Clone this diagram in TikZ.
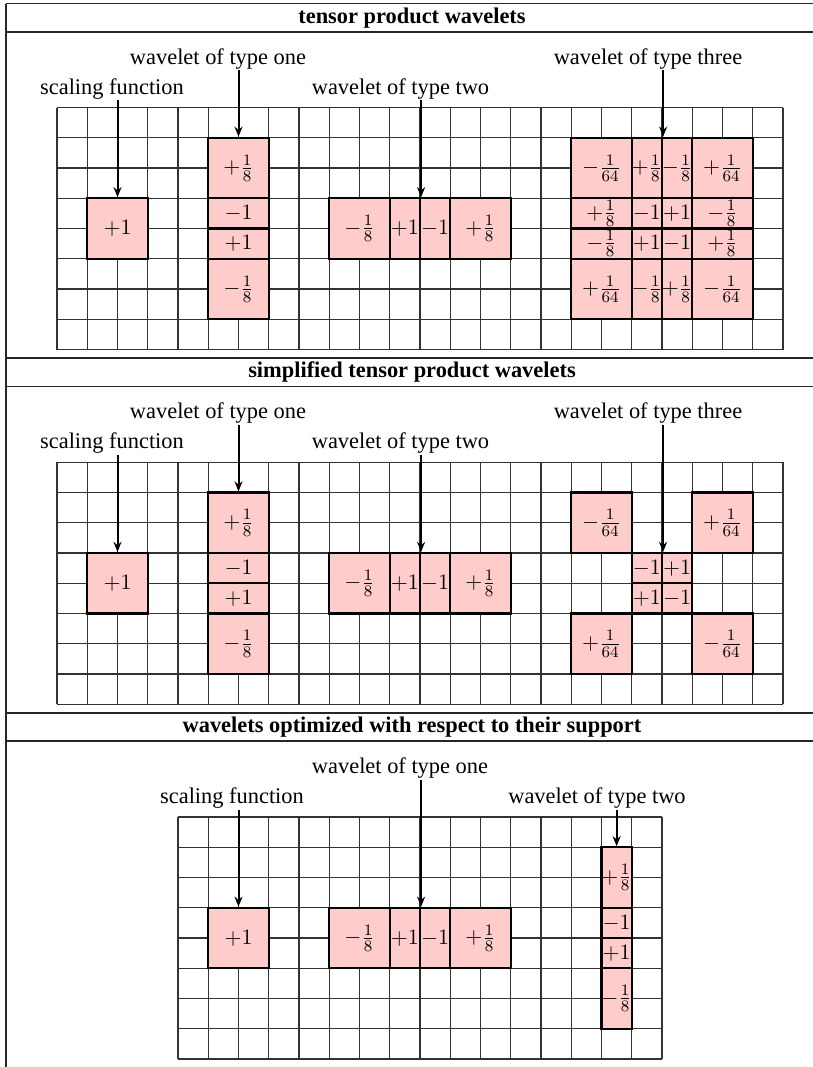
\documentclass[tikz,border=0pt]{standalone}
\usepackage[no-math]{fontspec}
\setmainfont{Liberation Serif}
\usetikzlibrary{arrows.meta}
\newcommand\myfs{\fontsize{11.2}{13.4}\selectfont}
\newcommand\blk[6]{\node[wbox,minimum width={(#4-#2)*15.125pt},minimum height={(#5-#3)*15.125pt}] (#1) at ({(#2+#4)/2},{(#3+#5)/2}) {#6};}
\newcommand\gridlines[2]{%
  \foreach \i in {0,...,#1} {\draw[gridline] (\i,0) -- (\i,#2);}
  \foreach \j in {0,...,#2} {\draw[gridline] (0,\j) -- (#1,\j);}}
\begin{document}
\begin{tikzpicture}[x=0.5pt,y=-0.5pt,
  wbox/.style={draw=black,line width=1.1pt,fill=red!20,inner sep=0pt,font=\myfs},
  gridline/.style={draw=black!80,line width=0.55pt},
  tabline/.style={draw=black!85,line width=0.8pt},
  lab/.style={font=\myfs,anchor=base,inner sep=0.6pt},
  head/.style={font=\myfs\bfseries,anchor=base,inner sep=0pt},
  arr/.style={draw=black,line width=1pt,-{Stealth[length=5pt,width=4pt]}}]
\useasboundingbox (0,0) rectangle (813,1067);
% table lines
\draw[tabline] (6,3.5) -- (6,1067);
\draw[tabline] (6,3.5) -- (813,3.5);
\draw[tabline] (6,31.7) -- (813,31.7);
\draw[tabline] (6,358.25) -- (813,358.25);
\draw[tabline] (6,386.45) -- (813,386.45);
\draw[tabline] (6,713) -- (813,713);
\draw[tabline] (6,741.2) -- (813,741.2);
% headers
\node[head] (h1) at (412,23) {tensor product wavelets};
\node[head] (h2) at (412,377.75) {simplified tensor product wavelets};
\node[head] (h3) at (412,732.5) {wavelets optimized with respect to their support};

% ---------- panel 1 ----------
\node[lab] (p1sf) at (112,94) {scaling function};
\node[lab] (p1w1) at (218,64) {wavelet of type one};
\node[lab] (p1w2) at (400.5,94) {wavelet of type two};
\node[lab] (p1w3) at (648,64) {wavelet of type three};
\begin{scope}[shift={(57,107.5)},x=15.125pt,y=-15.125pt]
\gridlines{24}{8}
\blk{as}{1}{3}{3}{5}{$+1$}
\blk{a1a}{5}{1}{7}{3}{$+\frac{1}{8}$}
\blk{a1b}{5}{3}{7}{4}{$-1$}
\blk{a1c}{5}{4}{7}{5}{$+1$}
\blk{a1d}{5}{5}{7}{7}{$-\frac{1}{8}$}
\blk{a2a}{9}{3}{11}{5}{$-\frac{1}{8}$}
\blk{a2b}{11}{3}{12}{5}{$+1$}
\blk{a2c}{12}{3}{13}{5}{$-1$}
\blk{a2d}{13}{3}{15}{5}{$+\frac{1}{8}$}
\blk{a3aa}{17}{1}{19}{3}{$-\frac{1}{64}$}
\blk{a3ab}{19}{1}{20}{3}{$+\frac{1}{8}$}
\blk{a3ac}{20}{1}{21}{3}{$-\frac{1}{8}$}
\blk{a3ad}{21}{1}{23}{3}{$+\frac{1}{64}$}
\blk{a3ba}{17}{3}{19}{4}{$+\frac{1}{8}$}
\blk{a3bb}{19}{3}{20}{4}{$-1$}
\blk{a3bc}{20}{3}{21}{4}{$+1$}
\blk{a3bd}{21}{3}{23}{4}{$-\frac{1}{8}$}
\blk{a3ca}{17}{4}{19}{5}{$-\frac{1}{8}$}
\blk{a3cb}{19}{4}{20}{5}{$+1$}
\blk{a3cc}{20}{4}{21}{5}{$-1$}
\blk{a3cd}{21}{4}{23}{5}{$+\frac{1}{8}$}
\blk{a3da}{17}{5}{19}{7}{$+\frac{1}{64}$}
\blk{a3db}{19}{5}{20}{7}{$-\frac{1}{8}$}
\blk{a3dc}{20}{5}{21}{7}{$+\frac{1}{8}$}
\blk{a3dd}{21}{5}{23}{7}{$-\frac{1}{64}$}
\end{scope}
\draw[arr] (p1sf.south -| as.north) -- (as.north);
\draw[arr] (p1w1.south -| a1a.north) -- (a1a.north);
\draw[arr] (p1w2.south -| a2b.north east) -- (a2b.north east);
\draw[arr] (p1w3.south -| a3ab.north east) -- (a3ab.north east);

% ---------- panel 2 ----------
\node[lab] (p2sf) at (112,448.75) {scaling function};
\node[lab] (p2w1) at (218,418.75) {wavelet of type one};
\node[lab] (p2w2) at (400.5,448.75) {wavelet of type two};
\node[lab] (p2w3) at (648,418.75) {wavelet of type three};
\begin{scope}[shift={(57,462.25)},x=15.125pt,y=-15.125pt]
\gridlines{24}{8}
\blk{bs}{1}{3}{3}{5}{$+1$}
\blk{b1a}{5}{1}{7}{3}{$+\frac{1}{8}$}
\blk{b1b}{5}{3}{7}{4}{$-1$}
\blk{b1c}{5}{4}{7}{5}{$+1$}
\blk{b1d}{5}{5}{7}{7}{$-\frac{1}{8}$}
\blk{b2a}{9}{3}{11}{5}{$-\frac{1}{8}$}
\blk{b2b}{11}{3}{12}{5}{$+1$}
\blk{b2c}{12}{3}{13}{5}{$-1$}
\blk{b2d}{13}{3}{15}{5}{$+\frac{1}{8}$}
\blk{b3tl}{17}{1}{19}{3}{$-\frac{1}{64}$}
\blk{b3tr}{21}{1}{23}{3}{$+\frac{1}{64}$}
\blk{b3ma}{19}{3}{20}{4}{$-1$}
\blk{b3mb}{20}{3}{21}{4}{$+1$}
\blk{b3mc}{19}{4}{20}{5}{$+1$}
\blk{b3md}{20}{4}{21}{5}{$-1$}
\blk{b3bl}{17}{5}{19}{7}{$+\frac{1}{64}$}
\blk{b3br}{21}{5}{23}{7}{$-\frac{1}{64}$}
\end{scope}
\draw[arr] (p2sf.south -| bs.north) -- (bs.north);
\draw[arr] (p2w1.south -| b1a.north) -- (b1a.north);
\draw[arr] (p2w2.south -| b2b.north east) -- (b2b.north east);
\draw[arr] (p2w3.south -| b3ma.north east) -- (b3ma.north east);

% ---------- panel 3 ----------
\node[lab] (p3w1) at (400,773.5) {wavelet of type one};
\node[lab] (p3sf) at (232,803.5) {scaling function};
\node[lab] (p3w2) at (597,803.5) {wavelet of type two};
\begin{scope}[shift={(178,817)},x=15.125pt,y=-15.125pt]
\gridlines{16}{8}
\blk{cs}{1}{3}{3}{5}{$+1$}
\blk{c1a}{5}{3}{7}{5}{$-\frac{1}{8}$}
\blk{c1b}{7}{3}{8}{5}{$+1$}
\blk{c1c}{8}{3}{9}{5}{$-1$}
\blk{c1d}{9}{3}{11}{5}{$+\frac{1}{8}$}
\blk{c2a}{14}{1}{15}{3}{$+\frac{1}{8}$}
\blk{c2b}{14}{3}{15}{4}{$-1$}
\blk{c2c}{14}{4}{15}{5}{$+1$}
\blk{c2d}{14}{5}{15}{7}{$-\frac{1}{8}$}
\end{scope}
\draw[arr] (p3sf.south -| cs.north) -- (cs.north);
\draw[arr] (p3w1.south -| c1b.north east) -- (c1b.north east);
\draw[arr] (p3w2.south -| c2a.north) -- (c2a.north);
\end{tikzpicture}
\end{document}
